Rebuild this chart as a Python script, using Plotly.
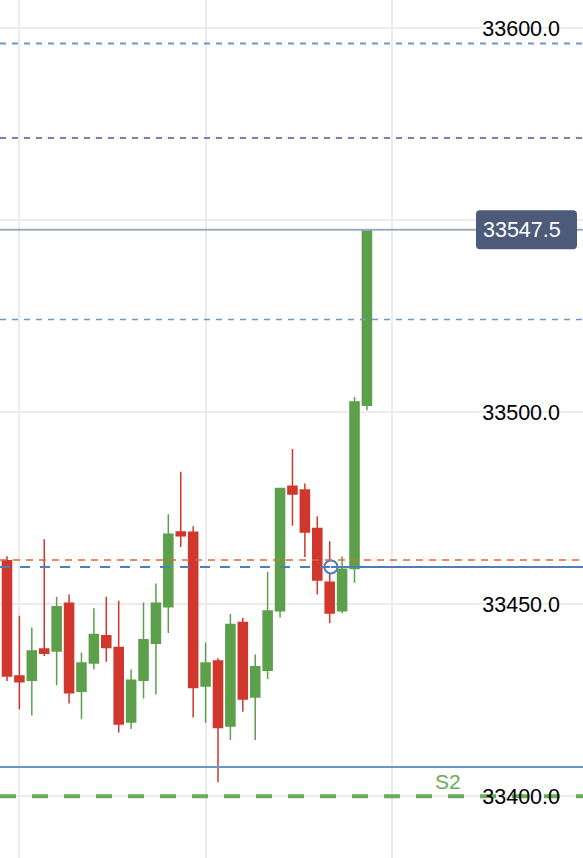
import plotly.graph_objects as go

# ---------------- data ----------------
candle_index = list(range(-1, 30))
opens  = [33477.6, 33461.3, 33431.3, 33430.2, 33438.3, 33437.8, 33450.2, 33427.3, 33434.7, 33441.8,
          33438.7, 33419.3, 33430.2, 33439.8, 33449.3, 33468.8, 33468.7, 33428.7, 33435.2, 33418.3,
          33445.2, 33425.8, 33432.8, 33448.3, 33480.7, 33479.7, 33469.7, 33455.7, 33448.3, 33459.3,
          33501.8]
highs  = [33480.0, 33462.5, 33447.0, 33443.9, 33466.9, 33451.9, 33452.5, 33437.4, 33448.9, 33451.9,
          33450.9, 33433.0, 33450.4, 33455.4, 33473.4, 33484.5, 33470.3, 33440.0, 33435.9, 33447.4,
          33446.4, 33436.9, 33458.4, 33480.1, 33490.4, 33481.4, 33472.9, 33466.4, 33462.4, 33503.9,
          33547.5]
lows   = [33458.0, 33430.0, 33422.6, 33421.0, 33436.5, 33428.9, 33424.1, 33420.0, 33433.0, 33435.0,
          33416.6, 33417.5, 33425.4, 33426.5, 33442.5, 33464.9, 33420.5, 33419.1, 33403.6, 33414.6,
          33422.0, 33414.6, 33430.5, 33446.5, 33470.4, 33462.3, 33452.5, 33445.0, 33447.6, 33455.6,
          33500.5]
closes = [33461.5, 33431.3, 33429.8, 33437.8, 33437.2, 33449.3, 33426.9, 33434.7, 33442.1, 33438.7,
          33418.8, 33430.2, 33440.7, 33450.2, 33468.2, 33467.8, 33428.3, 33434.7, 33417.9, 33444.7,
          33425.3, 33433.7, 33448.2, 33480.1, 33478.7, 33468.8, 33456.3, 33447.7, 33459.1, 33502.6,
          33547.5]

last_price = 33547.5
entry_index = 26.1
entry_price = 33459.7

# horizontal level lines
level_prices = [33596.0, 33571.4, 33524.1, 33461.5, 33407.6]
level_colors = ["#6f97cc", "#8c7bb0", "#6f97cc", "#da683e", "#6b94c9"]
level_widths = [2, 2, 1.6, 1.6, 2]
level_dashes = ["6px,6px", "6px,6px", "6px,6px", "7px,6px", "solid"]

s2_label = "S2"
s2_index = 35.5
s2_price = 33400.0

tick_vals = [33400, 33450, 33500, 33550, 33600]
tick_text = ["33400.0", "33450.0", "33500.0", "", "33600.0"]

x_range = [-0.564, 46.41]
y_range = [33383.9, 33607.3]

FONT = "Helvetica, Arial, Liberation Sans, sans-serif"

fig = go.Figure()

fig.add_trace(go.Candlestick(
    x=candle_index, open=opens, high=highs, low=lows, close=closes,
    increasing=dict(line=dict(color="#5ca04c", width=1.5), fillcolor="#5ca04c"),
    decreasing=dict(line=dict(color="#d0372d", width=1.5), fillcolor="#d0372d"),
    whiskerwidth=0, showlegend=False, hoverinfo="skip",
))

# S2 support line (as a trace so the tick labels stay on top of it)
fig.add_trace(go.Scatter(
    x=x_range, y=[s2_price, s2_price], mode="lines",
    line=dict(color="#6aab5c", width=4, dash="16px,16px"),
    showlegend=False, hoverinfo="skip",
))

shapes = []
for p, c, w, d in zip(level_prices, level_colors, level_widths, level_dashes):
    shapes.append(dict(type="line", xref="paper", x0=0, x1=1, yref="y", y0=p, y1=p,
                       line=dict(color=c, width=w, dash=d), layer="above"))
# last price line
shapes.append(dict(type="line", xref="paper", x0=0, x1=1, yref="y", y0=last_price, y1=last_price,
                   line=dict(color="#a0aabb", width=2), layer="above"))
# entry line: dashed before entry, solid after
shapes.append(dict(type="line", xref="x", x0=x_range[0], x1=entry_index, yref="y",
                   y0=entry_price, y1=entry_price,
                   line=dict(color="#4f7db8", width=2, dash="10px,10px"), layer="above"))
shapes.append(dict(type="line", xref="x", x0=entry_index, x1=x_range[1], yref="y",
                   y0=entry_price, y1=entry_price,
                   line=dict(color="#4f7db8", width=2), layer="above"))

# rounded price tag behind the last price text
bx0, bx1, bh, r = -107, -6, 19.5, 4
tag_path = (f"M {bx0+r},{-bh} L {bx1-r},{-bh} Q {bx1},{-bh} {bx1},{-bh+r} "
            f"L {bx1},{bh-r} Q {bx1},{bh} {bx1-r},{bh} L {bx0+r},{bh} "
            f"Q {bx0},{bh} {bx0},{bh-r} L {bx0},{-bh+r} Q {bx0},{-bh} {bx0+r},{-bh} Z")
shapes.append(dict(type="path", xref="paper", yref="y", xsizemode="pixel", ysizemode="pixel",
                   xanchor=1, yanchor=last_price, path=tag_path,
                   fillcolor="#4b5b79", line=dict(width=0), layer="above"))

fig.add_trace(go.Scatter(
    x=[entry_index], y=[entry_price], mode="markers",
    marker=dict(symbol="circle", size=13, color="white", line=dict(color="#4f7db8", width=2)),
    showlegend=False, hoverinfo="skip",
))

annotations = [
    dict(x=s2_index, y=s2_price, xref="x", yref="y", text=s2_label, showarrow=False,
         yanchor="bottom", yshift=1, font=dict(family=FONT, size=21, color="#6aab5c")),
    dict(x=1, y=last_price, xref="paper", yref="y", text=f"{last_price:.1f}",
         showarrow=False, xanchor="right", yanchor="middle", xshift=-20,
         font=dict(family=FONT, size=21.5, color="white")),
]

fig.update_layout(
    width=583, height=858, autosize=False,
    margin=dict(l=0, r=0, t=0, b=0, pad=0),
    paper_bgcolor="white", plot_bgcolor="white",
    boxgap=0.27, boxgroupgap=0,
    shapes=shapes, annotations=annotations,
    xaxis=dict(range=x_range, tick0=1, dtick=15, showticklabels=False,
               showgrid=True, gridcolor="#ececec", gridwidth=2, zeroline=False,
               showline=False, ticks="", rangeslider=dict(visible=False), fixedrange=True),
    yaxis=dict(side="right", range=y_range, tickvals=tick_vals, ticktext=tick_text,
               ticklabelposition="inside", ticks="", ticklabelstandoff=20,
               showgrid=True, gridcolor="#ececec", gridwidth=2, zeroline=False, showline=False,
               tickfont=dict(family=FONT, size=21.5, color="black"), fixedrange=True),
    showlegend=False,
)

fig.write_html("out.html", config={"displayModeBar": False},
               post_script="document.body.style.margin='0';")
